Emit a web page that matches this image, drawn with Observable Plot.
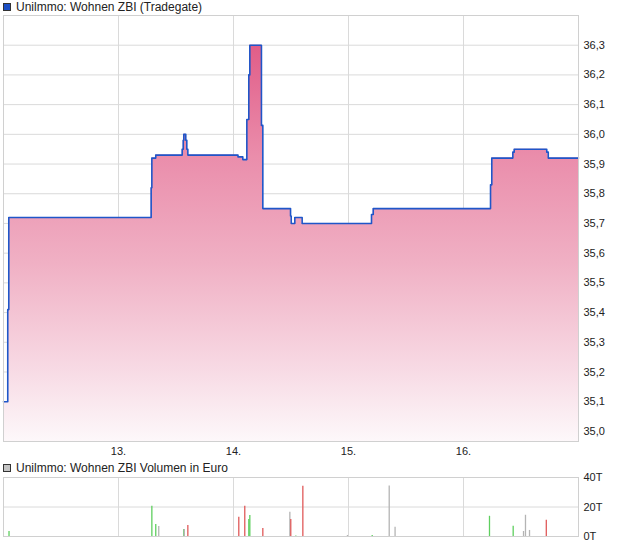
<!DOCTYPE html>
<html><head><meta charset="utf-8">
<script src="https://cdn.jsdelivr.net/npm/d3@7"></script>
<script src="https://cdn.jsdelivr.net/npm/@observablehq/plot@0.6"></script>
<style>
body{margin:0;background:#fff;font-family:"Liberation Sans",Arial,sans-serif;}
#wrap{position:relative;width:620px;height:546px;overflow:hidden;}
.leg{position:absolute;left:3px;font-size:12px;color:#222;display:flex;align-items:center;white-space:nowrap;z-index:2;line-height:14px;}
.sw{display:inline-block;width:6px;height:6px;border:1px solid #333;margin-right:5px;}
#p1{position:absolute;left:0;top:0;}
#p2{position:absolute;left:0;top:462px;}
</style></head><body>
<div id="wrap">
<div id="p1"></div>
<div id="p2"></div>
<div class="leg" style="top:0px"><span class="sw" style="background:#1c4fc4"></span>Unilmmo: Wohnen ZBI (Tradegate)</div>
<div class="leg" style="top:461px"><span class="sw" style="background:#c4c4c4"></span>Unilmmo: Wohnen ZBI Volumen in Euro</div>
</div>
<script>
// ---- data ----
const dayTicks = [13, 14, 15, 16];
const priceTicks = [35.0,35.1,35.2,35.3,35.4,35.5,35.6,35.7,35.8,35.9,36.0,36.1,36.2,36.3];
const volTicks = [0, 20, 40];
// time in fractional days (12 = start of the 12th)
const priceT = [12.000,12.037,12.046,13.284,13.290,13.324,13.554,13.563,13.568,13.585,13.594,13.603,
  14.039,14.081,14.116,14.133,14.142,14.243,14.255,14.496,14.502,14.533,14.597,15.200,15.215,
  16.235,16.246,16.429,16.441,16.724,16.737,17.000];
const priceV = [35.10,35.41,35.72,35.82,35.92,35.93,35.95,35.98,36.00,35.98,35.95,35.93,
  35.924,35.915,36.05,36.20,36.30,36.03,35.75,35.725,35.70,35.72,35.70,35.73,35.75,
  35.83,35.92,35.94,35.95,35.94,35.92,35.92];
const volT = [12.048,13.290,13.324,13.350,13.568,13.572,13.603,14.046,14.098,14.133,14.142,14.255,
  14.490,14.498,14.542,14.603,14.991,15.206,15.354,15.405,16.226,16.432,16.522,16.539,16.574,16.720];
const volV = [3.4,20.5,8.2,6.8,4.8,4.8,7.5,13,20.5,11.6,14.3,5.5,16.4,11.6,0.3,34,0.7,0.7,34.3,6.2,13.7,6.9,3.4,14.4,4.1,11];
const volDir = ["up","up","up","flat","up","flat","down","down","down","up","up","down",
  "flat","down","up","down","flat","up","flat","flat","up","up","flat","flat","flat","down"];

const yMin = 34.966, yMax = 36.4;
const dirColor = {up:"#5fcf5f", down:"#e05a5a", flat:"#b4b4b4"};
const price = priceT.map((t,i)=>({t, v: priceV[i]}));
const vol = volT.map((t,i)=>({t, v: volV[i], c: dirColor[volDir[i]]}));
const comma = d => d.toFixed(1).replace(".", ",");
const style = {fontFamily:"'Liberation Sans', Arial, sans-serif", fontSize:"11px", color:"#222", background:"transparent"};
const gridC = "#dadada";

const p1 = Plot.plot({
  width: 620, height: 460, marginTop: 15, marginBottom: 19, marginLeft: 3, marginRight: 42,
  style,
  x: {domain: [12, 17], axis: null},
  y: {domain: [yMin, yMax], axis: null},
  marks: [
    Plot.gridY(priceTicks, {stroke: gridC, strokeOpacity: 1}),
    Plot.gridX(dayTicks, {stroke: gridC, strokeOpacity: 1}),
    Plot.areaY(price, {x: "t", y1: yMin, y2: "v", curve: "step-after", fill: "url(#pg)"}),
    Plot.lineY(price, {x: "t", y: "v", curve: "step-after", stroke: "#1f56c9", strokeWidth: 1.6}),
    Plot.frame({stroke: "#d0d0d0"}),
    Plot.axisY(priceTicks, {anchor: "right", tickSize: 0, tickPadding: 5, tickFormat: comma, label: null}),
    Plot.axisX(dayTicks, {anchor: "bottom", tickSize: 0, tickPadding: 6, tickFormat: d => d + ".", label: null})
  ]
});
const defs = d3.select(p1).insert("defs", ":first-child");
const lg = defs.append("linearGradient").attr("id","pg").attr("x1",0).attr("y1",0).attr("x2",0).attr("y2",1);
[[0,"#e15d88"],[0.28,"#ea8dab"],[0.55,"#f0b0c4"],[0.8,"#f7d7e2"],[1,"#fdf8fa"]].forEach(([o,c]) =>
  lg.append("stop").attr("offset", o).attr("stop-color", c));
document.getElementById("p1").append(p1);

const p2 = Plot.plot({
  width: 620, height: 84, marginTop: 15, marginBottom: 10, marginLeft: 3, marginRight: 42,
  style,
  x: {domain: [12, 17], axis: null},
  y: {domain: [0, 40], axis: null},
  color: {type: "identity"},
  marks: [
    Plot.gridY([20], {stroke: gridC, strokeOpacity: 1}),
    Plot.gridX(dayTicks, {stroke: gridC, strokeOpacity: 1}),
    Plot.ruleX(vol, {x: "t", y1: 0, y2: "v", stroke: "c", strokeWidth: 1.3}),
    Plot.frame({stroke: "#d0d0d0"}),
    Plot.axisY(volTicks, {anchor: "right", tickSize: 0, tickPadding: 5, tickFormat: d => d + "T", label: null})
  ]
});
document.getElementById("p2").append(p2);
</script>
</body></html>
